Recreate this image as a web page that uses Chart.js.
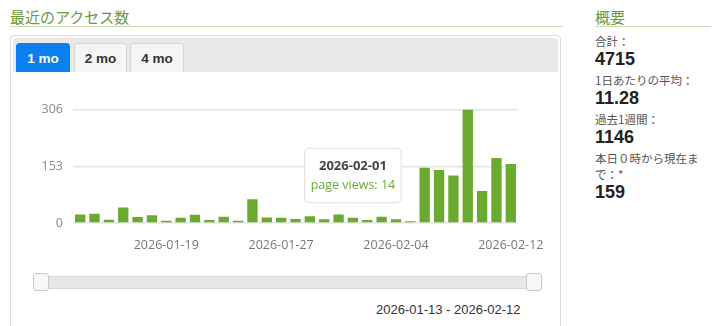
<!DOCTYPE html>
<html>
<head>
<meta charset="utf-8">
<script src="https://cdn.jsdelivr.net/npm/chart.js@4.4.0/dist/chart.umd.min.js"></script>
<style>
  body { margin: 0; width: 720px; height: 326px; overflow: hidden; background: #fff; position: relative; font-family: "Liberation Sans", Arial, sans-serif; }
  .head { position: absolute; top: 8px; color: #6b9a3c; font: 15px "Noto Sans CJK JP", sans-serif; border-bottom: 1px solid #cddbb5; padding-bottom: 1px; line-height: 17px; }
  #panel { position: absolute; left: 10px; top: 35px; width: 549px; height: 320px; border: 1px solid #dcdcdc; border-radius: 4px; }
  #tabbar { position: absolute; left: 2px; top: 2px; right: 2px; height: 34px; background: #e9e9e9; border-radius: 3px 3px 0 0; }
  .tab { position: absolute; top: 5px; height: 29px; line-height: 29px; text-align: center; font-weight: bold; font-size: 13.5px; color: #333; background: #f5f5f5; border: 1px solid #d6d6d6; border-bottom: none; border-radius: 4px 4px 0 0; box-sizing: border-box; }
  .tab.on { background: #0b7ef0; color: #fff; border-color: #0b7ef0; }
  #wrap { position: absolute; left: 20px; top: 92px; width: 540px; height: 168px; }
  #track { position: absolute; left: 38px; top: 276px; width: 496px; height: 11px; background: #e7e7e7; border: 1px solid #d8d8d8; }
  .handle { position: absolute; top: 273px; width: 14px; height: 16px; background: #f7f7f7; border: 1px solid #c9c9c9; border-radius: 3px; }
  #range { position: absolute; left: 376px; top: 302px; font-size: 13px; color: #333; }
  #side { position: absolute; left: 595px; top: 33px; width: 118px; font-family: "Noto Sans CJK JP", sans-serif; }
  .lbl { font-size: 11.5px; color: #555; line-height: 16px; }
  .num { font-family: "Liberation Sans", Arial, sans-serif; font-weight: bold; font-size: 18px; color: #222; line-height: 20px; margin-bottom: 3px; }
</style>
</head>
<body>
<div class="head" style="left:10px;width:553px;">最近のアクセス数</div>
<div class="head" style="left:595px;width:116px;">概要</div>

<div id="panel">
  <div id="tabbar">
    <div class="tab on" style="left:3px;width:54px;">1 mo</div>
    <div class="tab" style="left:61px;width:53px;">2 mo</div>
    <div class="tab" style="left:117px;width:54px;">4 mo</div>
  </div>
</div>
<div id="wrap"><canvas id="accessChart"></canvas></div>
<div id="track"></div>
<div class="handle" style="left:33px;"></div>
<div class="handle" style="left:526px;"></div>
<div id="range">2026-01-13 - 2026-02-12</div>

<div id="side">
  <div class="lbl">合計：</div>
  <div class="num">4715</div>
  <div class="lbl">1日あたりの平均：</div>
  <div class="num">11.28</div>
  <div class="lbl">過去1週間：</div>
  <div class="num">1146</div>
  <div class="lbl">本日０時から現在ま<br>で：*</div>
  <div class="num">159</div>
</div>

<script>
// Data
const days = [
  "2026-01-13", "2026-01-14", "2026-01-15", "2026-01-16", "2026-01-17", "2026-01-18",
  "2026-01-19", "2026-01-20", "2026-01-21", "2026-01-22", "2026-01-23", "2026-01-24",
  "2026-01-25", "2026-01-26", "2026-01-27", "2026-01-28", "2026-01-29", "2026-01-30",
  "2026-01-31", "2026-02-01", "2026-02-02", "2026-02-03", "2026-02-04", "2026-02-05",
  "2026-02-06", "2026-02-07", "2026-02-08", "2026-02-09", "2026-02-10", "2026-02-11",
  "2026-02-12",
];
const pageViews = [
  23, 25, 9, 42, 16, 21, 6, 14, 22, 8, 17, 6, 64, 15, 14, 11, 18, 10, 23, 14,
  8, 17, 10, 5, 149, 143, 128, 306, 86, 175, 159,
];
const yTicks = [0, 153, 306];
const shownDay = "2026-02-01";

const green = "#6aab2f";

const ctx = document.getElementById("accessChart").getContext("2d");
const chart = new Chart(ctx, {
  type: "bar",
  data: {
    labels: days,
    datasets: [
      {
        label: "page views",
        data: pageViews,
        backgroundColor: green,
        hoverBackgroundColor: green,
        borderWidth: 0,
        categoryPercentage: 1,
        barPercentage: 0.72,
      },
    ],
  },
  options: {
    responsive: true,
    maintainAspectRatio: false,
    animation: false,
    layout: { padding: { top: 0, right: 42, bottom: 0, left: 0 } },
    plugins: {
      legend: { display: false },
      tooltip: {
        backgroundColor: "#fff",
        borderColor: "#dddddd",
        borderWidth: 1,
        cornerRadius: 5,
        caretSize: 0,
        caretPadding: 15,
        xAlign: "center",
        yAlign: "bottom",
        displayColors: false,
        padding: { x: 6, y: 10 },
        titleColor: "#444",
        titleAlign: "center",
        bodyAlign: "center",
        titleFont: { family: "Open Sans", size: 13, weight: "bold" },
        titleMarginBottom: 4,
        bodyColor: green,
        bodyFont: { family: "Open Sans", size: 12.5 },
        callbacks: {
          label: (c) => "page views: " + c.raw,
        },
      },
    },
    scales: {
      x: {
        grid: { display: false },
        border: { display: false },
        ticks: {
          autoSkip: false,
          maxRotation: 0,
          padding: 7,
          color: "#777",
          font: { family: "Open Sans", size: 12.5 },
          callback: function (v, i) {
            return (i - 6) % 8 === 0 ? days[i] : "";
          },
        },
      },
      y: {
        min: 0,
        max: yTicks[yTicks.length - 1],
        afterFit: (s) => { s.width = 53; },
        afterBuildTicks: (s) => { s.ticks = yTicks.map((v) => ({ value: v })); },
        grid: { color: "#e3e3e3", lineWidth: 1.5, drawTicks: false },
        border: { display: false },
        ticks: {
          padding: 10,
          color: "#888",
          font: { family: "Open Sans", size: 12.5 },
        },
      },
    },
  },
});

const idx = days.indexOf(shownDay);
const bar = chart.getDatasetMeta(0).data[idx];
chart.tooltip.setActiveElements([{ datasetIndex: 0, index: idx }], { x: bar.x, y: bar.y });
chart.update();
</script>
</body>
</html>
